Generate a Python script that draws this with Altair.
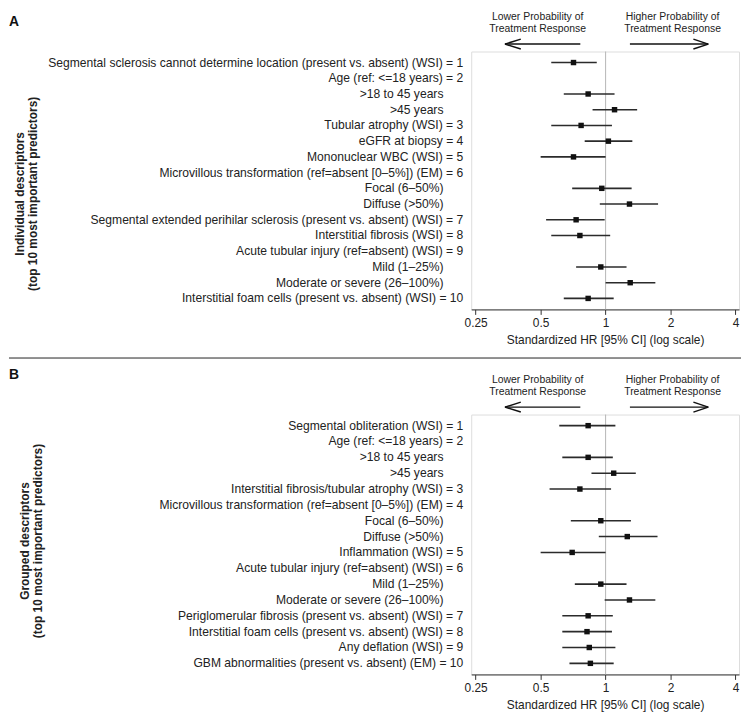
import altair as alt
import pandas as pd

# ---------------- Panel A : individual descriptors ----------------
labels_a = [
    "Segmental sclerosis cannot determine location (present vs. absent) (WSI) = 1",
    "Age (ref: <=18 years) = 2",
    ">18 to 45 years",
    ">45 years",
    "Tubular atrophy (WSI) = 3",
    "eGFR at biopsy = 4",
    "Mononuclear WBC (WSI) = 5",
    "Microvillous transformation (ref=absent [0–5%]) (EM) = 6",
    "Focal (6–50%)",
    "Diffuse (>50%)",
    "Segmental extended perihilar sclerosis (present vs. absent) (WSI) = 7",
    "Interstitial fibrosis (WSI) = 8",
    "Acute tubular injury (ref=absent) (WSI) = 9",
    "Mild (1–25%)",
    "Moderate or severe (26–100%)",
    "Interstitial foam cells (present vs. absent) (WSI) = 10",
]
sub_a = [False, False, True, True, False, False, False, False,
         True, True, False, False, False, True, True, False]
hr_a = [0.71, None, 0.83, 1.10, 0.77, 1.03, 0.71, None, 0.96, 1.29, 0.73, 0.76, None, 0.95, 1.30, 0.83]
lo_a = [0.56, None, 0.64, 0.87, 0.56, 0.80, 0.50, None, 0.70, 0.94, 0.53, 0.56, None, 0.73, 1.00, 0.64]
hi_a = [0.91, None, 1.10, 1.40, 1.07, 1.33, 1.00, None, 1.32, 1.75, 0.99, 1.05, None, 1.25, 1.70, 1.09]

# ---------------- Panel B : grouped descriptors ----------------
labels_b = [
    "Segmental obliteration (WSI) = 1",
    "Age (ref: <=18 years) = 2",
    ">18 to 45 years",
    ">45 years",
    "Interstitial fibrosis/tubular atrophy (WSI) = 3",
    "Microvillous transformation (ref=absent [0–5%]) (EM) = 4",
    "Focal (6–50%)",
    "Diffuse (>50%)",
    "Inflammation (WSI) = 5",
    "Acute tubular injury (ref=absent) (WSI) = 6",
    "Mild (1–25%)",
    "Moderate or severe (26–100%)",
    "Periglomerular fibrosis (present vs. absent) (WSI) = 7",
    "Interstitial foam cells (present vs. absent) (WSI) = 8",
    "Any deflation (WSI) = 9",
    "GBM abnormalities (present vs. absent) (EM) = 10",
]
sub_b = [False, False, True, True, False, False, True, True,
         False, False, True, True, False, False, False, False]
hr_b = [0.83, None, 0.83, 1.09, 0.76, None, 0.95, 1.26, 0.70, None, 0.95, 1.29, 0.83, 0.82, 0.84, 0.85]
lo_b = [0.61, None, 0.63, 0.86, 0.55, None, 0.69, 0.93, 0.50, None, 0.72, 0.99, 0.63, 0.63, 0.63, 0.68]
hi_b = [1.11, None, 1.08, 1.38, 1.06, None, 1.31, 1.74, 1.00, None, 1.25, 1.70, 1.08, 1.07, 1.11, 1.09]

tick_values = [0.25, 0.5, 1, 2, 4]
x_title = "Standardized HR [95% CI] (log scale)"
FONT = "Liberation Sans"
W = 270


def panel(labels, sub, hr, lo, hi, ytitle, letter, height, title_x, title_y, letter_y, divider):
    df = pd.DataFrame({"idx": list(range(1, len(labels) + 1)), "label": labels,
                       "sub": sub, "hr": hr, "lo": lo, "hi": hi})
    one = pd.DataFrame({"k": [0]})
    xscale = alt.Scale(type="log", base=2, domain=[0.2384, 4.151], nice=False)
    xaxis = alt.Axis(values=tick_values, format="~g", title=x_title, grid=False,
                     tickSize=5, labelPadding=3, titlePadding=6,
                     labelFontSize=12, titleFontSize=12, titleFontWeight="normal",
                     labelColor="#222", titleColor="#222", domainColor="#333",
                     tickColor="#333", labelFont=FONT, titleFont=FONT)
    yaxis = alt.Axis(labels=False, ticks=False, domain=False, title=ytitle,
                     titleX=title_x, titleY=title_y, titleAngle=-90,
                     titleBaseline="middle", titleAlign="center",
                     titleFontWeight="bold", titleFontSize=12, titleLineHeight=13,
                     titleColor="#222", titleFont=FONT)
    yenc = alt.Y("idx:O", scale=alt.Scale(type="point", padding=0.7), axis=yaxis)

    base = alt.Chart(df)
    refline = alt.Chart(pd.DataFrame({"v": [1]})).mark_rule(
        color="#b5b5b5", strokeWidth=1).encode(
        x=alt.X("v:Q", scale=xscale, axis=xaxis))
    ci = base.transform_filter("isValid(datum.hr)").mark_rule(
        color="#2b2b2b", strokeWidth=1.6).encode(
        x=alt.X("lo:Q", scale=xscale, axis=xaxis), x2="hi:Q", y=yenc)
    pts = base.transform_filter("isValid(datum.hr)").mark_square(
        size=30, color="#111", opacity=1).encode(
        x=alt.X("hr:Q", scale=xscale, axis=xaxis), y=yenc)
    main_lab = base.transform_filter("!datum.sub").mark_text(
        align="right", baseline="middle", fontSize=12.2, font=FONT, color="#222").encode(
        x=alt.value(-8), y=yenc, text="label:N")
    sub_lab = base.transform_filter("datum.sub").mark_text(
        align="right", baseline="middle", fontSize=12.2, font=FONT, color="#222").encode(
        x=alt.value(-28), y=yenc, text="label:N")

    ann = []
    ay = -7.5
    # left arrow (lower probability)
    ann.append(alt.Chart(one).mark_rule(color="#111", strokeWidth=1.5).encode(
        x=alt.value(34), x2=alt.value(110), y=alt.value(ay)))
    ann.append(alt.Chart(one).mark_rule(color="#111", strokeWidth=1.5).encode(
        x=alt.value(34), x2=alt.value(50), y=alt.value(ay), y2=alt.value(ay - 5)))
    ann.append(alt.Chart(one).mark_rule(color="#111", strokeWidth=1.5).encode(
        x=alt.value(34), x2=alt.value(50), y=alt.value(ay), y2=alt.value(ay + 5)))
    # right arrow (higher probability)
    ann.append(alt.Chart(one).mark_rule(color="#111", strokeWidth=1.5).encode(
        x=alt.value(160), x2=alt.value(239), y=alt.value(ay)))
    ann.append(alt.Chart(one).mark_rule(color="#111", strokeWidth=1.5).encode(
        x=alt.value(239), x2=alt.value(224), y=alt.value(ay), y2=alt.value(ay - 5)))
    ann.append(alt.Chart(one).mark_rule(color="#111", strokeWidth=1.5).encode(
        x=alt.value(239), x2=alt.value(224), y=alt.value(ay), y2=alt.value(ay + 5)))
    ann.append(alt.Chart(one).mark_text(
        text=["Lower Probability of", "Treatment Response"], lineHeight=12.5,
        fontSize=10.5, font=FONT, color="#222", align="center", baseline="middle").encode(
        x=alt.value(67), y=alt.value(-35)))
    ann.append(alt.Chart(one).mark_text(
        text=["Higher Probability of", "Treatment Response"], lineHeight=12.5,
        fontSize=10.5, font=FONT, color="#222", align="center", baseline="middle").encode(
        x=alt.value(203), y=alt.value(-35)))
    ann.append(alt.Chart(one).mark_text(
        text=letter, fontSize=14, fontWeight="bold", font=FONT, color="#111",
        align="left", baseline="middle").encode(x=alt.value(-466), y=alt.value(letter_y)))
    if divider is not None:
        ann.append(alt.Chart(one).mark_rule(color="#222", strokeWidth=1).encode(
            x=alt.value(-466), x2=alt.value(272), y=alt.value(divider)))

    return alt.layer(refline, ci, pts, main_lab, sub_lab, *ann).properties(
        width=W, height=height)


pa = panel(labels_a, sub_a, hr_a, lo_a, hi_a,
           ["Individual descriptors", "(top 10 most important predictors)"],
           "A", 260, -455, 143, -30, 309)
pb = panel(labels_b, sub_b, hr_b, lo_b, hi_b,
           ["Grouped descriptors", "(top 10 most important predictors)"],
           "B", 262, -450, 127, -40, None)

chart = alt.vconcat(pa, pb, spacing=106, bounds="flush").properties(
    padding=0
).configure_view(stroke=None).configure(font=FONT)

chart.save("out.html", embed_options={"renderer": "svg", "actions": False})
